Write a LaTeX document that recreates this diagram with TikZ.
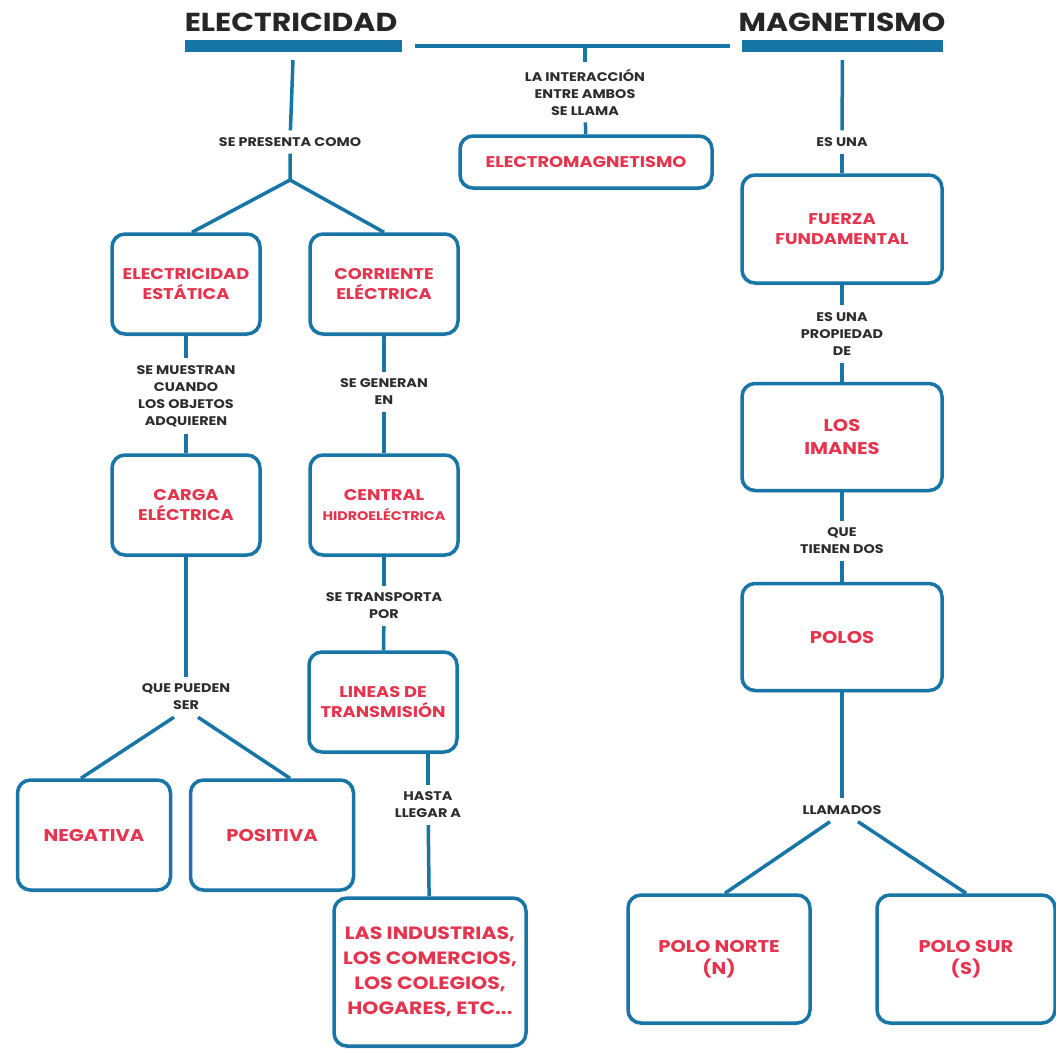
\documentclass[tikz,border=0pt]{standalone}
\usepackage{fontspec}
\setmainfont{Poppins}[FakeStretch=1.15]
\usetikzlibrary{shadows}
\definecolor{mapblue}{RGB}{24,118,166}
\definecolor{mapred}{RGB}{229,52,78}
\definecolor{mapgray}{RGB}{45,45,45}
\tikzstyle{concept}=[rectangle,
                     rounded corners=13pt,
                     line width=3.5pt,
                     draw=mapblue,
                     fill=white,
                     drop shadow={opacity=0.15,shadow xshift=-1.5pt,shadow yshift=-2.5pt},
                     text=mapred,
                     align=center,
                     minimum width=148pt,
                     minimum height=100pt,
                     font=\fontsize{15.5}{20}\selectfont\bfseries]
\tikzstyle{bigger}=[font=\fontsize{17}{22}\selectfont\bfseries]
\tikzstyle{joint}=[text=mapgray,
                   align=center,
                   inner sep=7pt,
                   font=\fontsize{12.5}{17}\selectfont\bfseries]
\tikzstyle{wire}=[draw=mapblue,line width=3.5pt,line join=round]
\tikzstyle{title}=[text=black!85,font=\fontsize{26}{26}\selectfont\bfseries]
\tikzstyle{titlebar}=[fill=mapblue,minimum height=12pt,inner sep=0pt]

\begin{document}
\begin{tikzpicture}[x=1pt,y=-1pt]
    \useasboundingbox (0,0) rectangle (1056,1052);
    \fill[white] (0,0) rectangle (1056,1052);

    % headings
    \node[title] (elec) at (291,22) {ELECTRICIDAD};
    \node[titlebar,minimum width=217pt] (elecbar) at (293.5,46) {};
    \node[title] (magn) at (842,22) {MAGNETISMO};
    \node[titlebar,minimum width=201pt] (magbar) at (842.5,46) {};
    \coordinate (meet) at (585,46);
    \node[joint] (interaccion) at (585,92) {LA INTERACCIÓN\\ENTRE AMBOS\\SE LLAMA};
    \node[concept,minimum width=252pt,minimum height=52pt] (electromag) at (586,162) {ELECTROMAGNETISMO};

    % electricidad
    \node[joint] (presenta) at (290,142) {SE PRESENTA COMO};
    \coordinate (split) at (290,180);
    \node[concept] (estatica) at (186,284) {ELECTRICIDAD\\ESTÁTICA};
    \node[concept,node distance=198pt,right of=estatica] (corriente) {CORRIENTE\\ELÉCTRICA};
    \node[joint] (muestran) at (186,396) {SE MUESTRAN\\CUANDO\\LOS OBJETOS\\ADQUIEREN};
    \node[joint] (generan) at (384,392) {SE GENERAN\\EN};
    \node[concept] (carga) at (186,505) {CARGA\\ELÉCTRICA};
    \node[concept,node distance=198pt,right of=carga] (central) {CENTRAL\\{\fontsize{12.5}{20}\selectfont HIDROELÉCTRICA}};
    \node[joint] (pueden) at (186,697) {QUE PUEDEN\\SER};
    \node[concept,bigger,minimum width=153pt,minimum height=110pt] (negativa) at (94,835) {NEGATIVA};
    \node[concept,bigger,minimum width=163pt,minimum height=110pt] (positiva) at (272,835) {POSITIVA};
    \node[joint] (transporta) at (384,606) {SE TRANSPORTA\\POR};
    \node[concept] (lineas) at (383,702) {LINEAS DE\\TRANSMISIÓN};
    \node[joint] (hasta) at (428,805) {HASTA\\LLEGAR A};
    \node[concept,minimum width=192pt,minimum height=148pt,font=\fontsize{17.8}{25}\selectfont\bfseries] (industrias) at (430,972)
        {LAS INDUSTRIAS,\\LOS COMERCIOS,\\LOS COLEGIOS,\\HOGARES, ETC...};

    % magnetismo
    \node[joint] (esuna) at (842,142) {ES UNA};
    \node[concept,minimum width=200pt,minimum height=108pt] (fuerza) at (842,229) {FUERZA\\FUNDAMENTAL};
    \node[joint] (propiedad) at (842,334) {ES UNA\\PROPIEDAD\\DE};
    \node[concept,bigger,minimum width=200pt,minimum height=107pt,node distance=208pt,below of=fuerza] (imanes) {LOS\\IMANES};
    \node[joint] (tienen) at (842,541) {QUE\\TIENEN DOS};
    \node[concept,bigger,minimum width=200pt,minimum height=107pt,node distance=200pt,below of=imanes] (polos) {POLOS};
    \node[joint] (llamados) at (842,810) {LLAMADOS};
    \node[concept,bigger,minimum width=182pt,minimum height=128pt] (norte) at (719,959) {POLO NORTE\\(N)};
    \node[concept,bigger,minimum width=178pt,minimum height=128pt] (sur) at (966,959) {POLO SUR\\(S)};

    % connectors
    \path (elecbar) edge[wire,shorten <=13pt,shorten >=12pt] (magbar)
          (meet) edge[wire] (interaccion)
          (interaccion) edge[wire] (electromag)
          (elecbar) edge[wire,shorten <=8pt] (presenta)
          (magbar) edge[wire,shorten <=8pt] (esuna)
          (esuna) edge[wire] (fuerza)
          (fuerza) edge[wire] (propiedad)
          (propiedad) edge[wire] (imanes)
          (imanes) edge[wire] (tienen)
          (tienen) edge[wire] (polos)
          (polos) edge[wire] (llamados)
          (estatica) edge[wire] (muestran)
          (muestran) edge[wire] (carga)
          (corriente) edge[wire] (generan)
          (generan) edge[wire] (central)
          (carga) edge[wire] (pueden)
          (central) edge[wire] (transporta)
          (transporta) edge[wire] (lineas)
          (hasta) edge[wire] (industrias);
    \draw[wire] (presenta) -- (split) -- ([xshift=6pt]estatica.north);
    \draw[wire] (split) -- (corriente.north);
    \draw[wire] ([xshift=45pt]lineas.south) -- (hasta);
    \draw[wire] ([xshift=-12pt]pueden.south) -- ([xshift=-13pt]negativa.north);
    \draw[wire] ([xshift=12pt]pueden.south) -- ([xshift=18pt]positiva.north);
    \draw[wire] ([xshift=-12pt]llamados.south) -- ([xshift=6pt]norte.north);
    \draw[wire] ([xshift=16pt]llamados.south) -- (sur.north);
\end{tikzpicture}
\end{document}
